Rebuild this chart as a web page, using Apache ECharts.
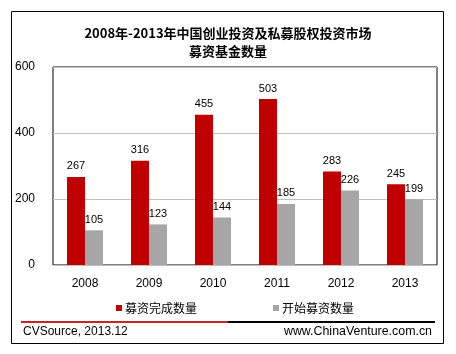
<!DOCTYPE html>
<html>
<head>
<meta charset="utf-8">
<title>募资基金数量</title>
<script src="https://cdn.jsdelivr.net/npm/echarts@6/dist/echarts.min.js"></script>
<style>
  html, body { margin: 0; padding: 0; background: #fff; }
  #main { width: 456px; height: 354px; }
</style>
</head>
<body>
<div id="main"></div>
<script>
// 数据
var years = ['2008', '2009', '2010', '2011', '2012', '2013'];
var doneCount = [267, 316, 455, 503, 283, 245];   // 募资完成数量
var startCount = [105, 123, 144, 185, 226, 199];  // 开始募资数量
var yTicks = [0, 200, 400, 600];

var latin = 'Liberation Sans, Arial, Noto Sans CJK SC, sans-serif';
var cjk = 'Noto Sans CJK SC, sans-serif';

var myChart = echarts.init(document.getElementById('main'));

var option = {
    animation: false,
    title: {
        text: '2008年-2013年中国创业投资及私募股权投资市场\n募资基金数量',
        left: 'center',
        top: 19,
        textStyle: { fontSize: 13, fontWeight: 'bold', color: '#000', fontFamily: cjk, lineHeight: 18 }
    },
    legend: {
        top: 297,
        left: 111,
        itemGap: 76,
        itemWidth: 6,
        itemHeight: 6,
        icon: 'rect',
        textStyle: { fontSize: 12, color: '#000', fontFamily: cjk, padding: [0, 0, 0, -2] }
    },
    grid: { left: 53, top: 67, width: 384, height: 198, show: true, borderColor: '#000', borderWidth: 1 },
    xAxis: {
        type: 'category',
        data: years,
        axisLine: { show: false },
        axisTick: { show: false },
        axisLabel: { fontSize: 12, color: '#000', fontFamily: latin, margin: 13 }
    },
    yAxis: {
        type: 'value',
        min: yTicks[0],
        max: yTicks[yTicks.length - 1],
        interval: 200,
        axisLine: { show: false },
        axisTick: { show: false },
        axisLabel: { fontSize: 12, color: '#000', fontFamily: latin, margin: 18 },
        splitLine: { lineStyle: { color: '#bfbfbf' } }
    },
    series: [
        {
            name: '募资完成数量',
            type: 'bar',
            data: doneCount,
            barWidth: 18,
            barGap: '0%',
            itemStyle: { color: '#C00000' },
            label: { show: true, position: 'top', distance: 5, fontSize: 11, color: '#000', fontFamily: latin }
        },
        {
            name: '开始募资数量',
            type: 'bar',
            data: startCount,
            barWidth: 18,
            barGap: '0%',
            itemStyle: { color: '#A6A6A6' },
            label: { show: true, position: 'top', distance: 5, fontSize: 11, color: '#000', fontFamily: latin }
        }
    ],
    graphic: [
        { type: 'rect', shape: { x: 11.5, y: 11.5, width: 432, height: 332 }, style: { fill: null, stroke: '#000', lineWidth: 1 } },
        { type: 'line', shape: { x1: 21, y1: 322, x2: 228, y2: 322 }, style: { stroke: '#C8232B', lineWidth: 2 } },
        { type: 'line', shape: { x1: 228, y1: 322, x2: 435, y2: 322 }, style: { stroke: '#000', lineWidth: 2 } },
        { type: 'text', left: 23, top: 326, style: { text: 'CVSource, 2013.12', font: '12px Liberation Sans, Arial, sans-serif', fill: '#000' } },
        { type: 'text', right: 24, top: 326, style: { text: 'www.ChinaVenture.com.cn', font: '12.4px Liberation Sans, Arial, sans-serif', fill: '#000' } }
    ]
};

myChart.setOption(option);
</script>
</body>
</html>
